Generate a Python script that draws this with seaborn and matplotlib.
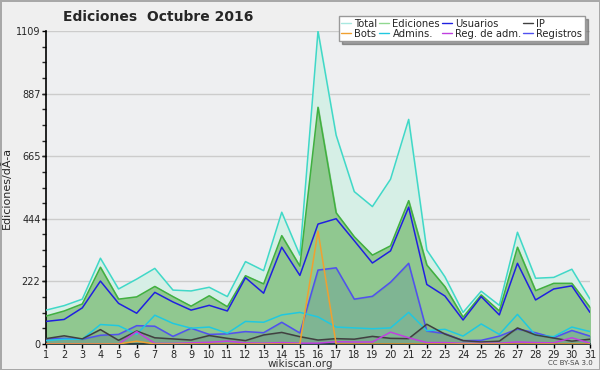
import numpy as np
import pandas as pd
import matplotlib
matplotlib.use("Agg")
import matplotlib.pyplot as plt
from matplotlib.ticker import MultipleLocator
import seaborn as sns

# Datos (ediciones por día, octubre 2016)
dias = list(range(1, 32))
total = [120, 136, 159, 304, 195, 230, 268, 191, 188, 201, 168, 292, 260, 467, 315, 1109,
         740, 540, 487, 584, 796, 333, 238, 112, 187, 137, 396, 233, 236, 265, 159]
ediciones = [99, 117, 142, 272, 159, 167, 204, 168, 134, 171, 132, 242, 213, 384, 276, 839,
             465, 380, 315, 348, 508, 280, 203, 95, 174, 117, 343, 189, 215, 215, 130]
usuarios = [80, 87, 128, 223, 144, 109, 183, 149, 120, 137, 117, 235, 180, 343, 243, 425,
            444, 366, 287, 330, 485, 211, 170, 85, 168, 103, 286, 156, 195, 206, 112]
ip = [19, 29, 18, 51, 13, 46, 22, 18, 14, 30, 20, 12, 32, 41, 26, 14,
      19, 17, 27, 20, 19, 70, 35, 12, 7, 10, 57, 32, 21, 10, 17]
bots = [0, 0, 0, 0, 0, 10, 0, 0, 0, 0, 0, 0, 0, 0, 0, 400,
        0, 0, 0, 0, 0, 0, 0, 0, 0, 0, 0, 0, 0, 0, 0]
admins = [12, 17, 17, 69, 65, 34, 102, 73, 56, 60, 38, 80, 77, 103, 112, 96,
          60, 57, 54, 57, 112, 47, 52, 28, 71, 34, 105, 31, 26, 60, 44]
reg_adm = [0, 0, 0, 0, 0, 44, 2, 2, 4, 6, 10, 4, 3, 5, 3, 3,
           8, 7, 7, 42, 22, 5, 5, 2, 2, 3, 7, 5, 4, 22, 3]
registros = [18, 20, 17, 31, 34, 65, 63, 27, 56, 34, 36, 44, 40, 77, 39, 262,
             270, 159, 169, 219, 286, 46, 37, 12, 13, 28, 53, 40, 22, 48, 28]

df = pd.DataFrame({"dia": dias, "Total": total, "Ediciones": ediciones,
                   "Usuarios": usuarios, "IP": ip, "Bots": bots, "Admins.": admins,
                   "Reg. de adm.": reg_adm, "Registros": registros})

colores = {"Total": "#40d8c8", "Ediciones": "#40b040", "Usuarios": "#2020e0",
           "IP": "#404040", "Bots": "#f0a030", "Admins.": "#20c8e0",
           "Reg. de adm.": "#c040e0", "Registros": "#5050f0"}
colores_leyenda = dict(colores, Total="#a8e8e0", Ediciones="#90d890")

sns.set_style("white")
plt.rcParams["font.family"] = ["DejaVu Sans"]

fig = plt.figure(figsize=(6, 3.7), dpi=100, facecolor="#efefef",
                 edgecolor="#a8a8a8", linewidth=2)
ax = fig.add_axes([0.0767, 0.0703, 0.9066, 0.8457])
ax.set_facecolor("#eeeff1")

# rellenos
ax.fill_between(df["dia"], df["Total"], color="#d6efe6", zorder=1)
ax.fill_between(df["dia"], df["Ediciones"], color="#90c890", zorder=2)
ax.fill_between(df["dia"], df["Registros"], color="#5a8a9a", alpha=0.3, zorder=3)
ax.fill_between(df["dia"], df["IP"], color="#505050", alpha=0.12, zorder=3)

orden = ["Total", "Ediciones", "Usuarios", "Registros", "Admins.", "IP", "Reg. de adm.", "Bots"]
for serie in orden:
    sns.lineplot(data=df, x="dia", y=serie, ax=ax, color=colores[serie],
                 linewidth=1.1, zorder=4, label=serie)

ax.get_legend().remove()
ax.set_xlim(1, 31)
ax.set_ylim(0, 1109)
ax.set_xticks(dias)
ax.set_yticks([0, 222, 444, 665, 887, 1109])
ax.yaxis.set_minor_locator(MultipleLocator(1109 / 20))
ax.tick_params(axis="both", labelsize=7, length=3, width=1, color="black",
               pad=1, direction="out", left=True, bottom=True)
ax.tick_params(axis="y", which="minor", length=3, width=1, left=True)
ax.grid(axis="y", color="#cccccc", linewidth=1, zorder=0)
ax.set_axisbelow(True)
for side in ["top", "right"]:
    ax.spines[side].set_visible(False)
ax.spines["left"].set_color("black")
ax.spines["left"].set_linewidth(1.2)
ax.spines["bottom"].set_color("black")
ax.spines["bottom"].set_linewidth(1.2)
ax.set_xlabel("")
ax.set_ylabel("Ediciones/dÃ-a", fontsize=8, labelpad=3)

fig.text(0.263, 0.953, "Ediciones  Octubre 2016", fontsize=10, fontweight="bold",
         ha="center", va="center")
fig.text(0.5, 0.016, "wikiscan.org", fontsize=7.5, ha="center", va="center", color="#333333")
fig.text(0.95, 0.02, "CC BY-SA 3.0", fontsize=5, ha="center", va="center", color="#444444")

# leyenda en el orden del original (columnas)
leyenda = ["Total", "Bots", "Ediciones", "Admins.", "Usuarios", "Reg. de adm.", "IP", "Registros"]
handles = [plt.Line2D([], [], color=colores_leyenda[s], linewidth=1) for s in leyenda]
leg = fig.legend(handles, leyenda, loc="upper right", bbox_to_anchor=(0.983, 0.97),
                 ncol=4, fontsize=7.2, frameon=True, fancybox=False, shadow=True,
                 handlelength=1.0, handletextpad=0.3, columnspacing=0.2,
                 labelspacing=0.0, borderpad=0.25)
leg.get_frame().set_edgecolor("#999999")
leg.get_frame().set_facecolor("white")
leg.get_frame().set_alpha(1)

fig.savefig("out.png", dpi=100, facecolor=fig.get_facecolor(), edgecolor=fig.get_edgecolor())
